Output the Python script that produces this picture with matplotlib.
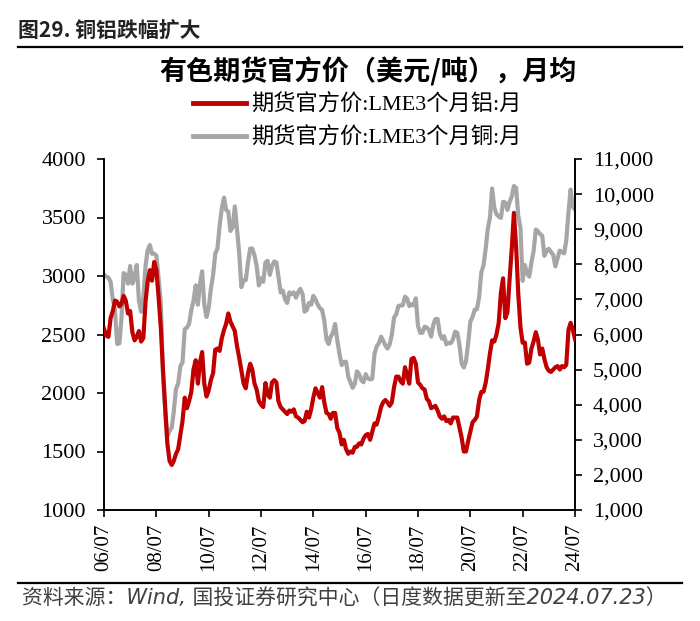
import pandas as pd
import matplotlib
matplotlib.use('Agg')
import matplotlib.pyplot as plt
import matplotlib.dates as mdates
from matplotlib.lines import Line2D
from matplotlib.ticker import MultipleLocator, FuncFormatter

# LME 3-month official price, monthly average (USD/t), 2006-07 .. 2024-07
aluminium = [
    2550, 2490, 2480, 2640, 2700, 2790,                                 # 2006 H2
    2780, 2740, 2760, 2830, 2790, 2680, 2700, 2520, 2450, 2480, 2530, 2440,  # 2007
    2470, 2780, 2950, 3050, 2960, 3120, 3050, 2820, 2560, 2200, 1880, 1570,  # 2008
    1420, 1385, 1420, 1480, 1520, 1640, 1760, 1960, 1870, 1930, 2010, 2200,  # 2009
    2280, 2080, 2260, 2350, 2080, 1970, 2020, 2110, 2170, 2370, 2380, 2360,  # 2010
    2470, 2540, 2590, 2680, 2610, 2570, 2530, 2400, 2300, 2190, 2080, 2040,  # 2011
    2170, 2250, 2200, 2080, 2030, 1930, 1900, 1880, 2085, 1990, 1960, 2090,  # 2012
    2110, 2090, 1930, 1880, 1860, 1840, 1820, 1850, 1840, 1860, 1800, 1790,  # 2013
    1770, 1750, 1760, 1840, 1790, 1860, 1960, 2040, 2000, 1960, 2050, 1920,  # 2014
    1830, 1820, 1780, 1830, 1830, 1700, 1660, 1560, 1600, 1520, 1480, 1500,  # 2015
    1490, 1540, 1540, 1570, 1560, 1610, 1640, 1650, 1600, 1670, 1740, 1730,  # 2016
    1800, 1880, 1920, 1940, 1920, 1890, 1920, 2050, 2140, 2140, 2100, 2080,  # 2017
    2220, 2150, 2080, 2290, 2300, 2250, 2090, 2070, 2040, 2030, 1950, 1930,  # 2018
    1870, 1880, 1890, 1850, 1800, 1780, 1800, 1760, 1770, 1740, 1790, 1790,  # 2019
    1790, 1700, 1620, 1500, 1500, 1590, 1670, 1750, 1770, 1800, 1940, 2010,  # 2020
    2010, 2090, 2200, 2340, 2450, 2440, 2500, 2600, 2860, 2980, 2640, 2690,  # 2021
    2980, 3250, 3540, 3250, 2850, 2560, 2430, 2430, 2250, 2260, 2380, 2440,  # 2022
    2520, 2450, 2330, 2380, 2290, 2220, 2190, 2180, 2200, 2220, 2230, 2200,  # 2023
    2230, 2220, 2240, 2540, 2600, 2540, 2460,                           # 2024
]
copper = [
    7700, 7650, 7620, 7500, 7000, 6700,
    5730, 5750, 6450, 7750, 7700, 7450, 7950, 7450, 7650, 7980, 6950, 6650,
    7050, 7950, 8400, 8550, 8300, 8300, 8250, 7600, 6900, 4900, 3800, 3100,
    3250, 3350, 3800, 4450, 4600, 5100, 5200, 6150, 6200, 6300, 6700, 6950,
    7400, 6850, 7450, 7800, 6850, 6500, 6750, 7300, 7700, 8300, 8450, 9100,
    9600, 9900, 9550, 9500, 8950, 9050, 9650, 9000, 8300, 7350, 7550, 7550,
    8050, 8450, 8450, 8250, 7950, 7400, 7600, 7500, 8050, 8100, 7700, 7950,
    8080, 8050, 7650, 7200, 7250, 7000, 6900, 7200, 7150, 7200, 7050, 7200,
    7300, 7150, 6650, 6700, 6900, 6850, 7100, 7000, 6850, 6750, 6700, 6400,
    5850, 5730, 5940, 6050, 6300, 5830, 5450, 5130, 5220, 5220, 4800, 4640,
    4480, 4600, 4950, 4870, 4700, 4640, 4870, 4750, 4720, 4740, 5450, 5660,
    5750, 5940, 5830, 5690, 5600, 5720, 5990, 6480, 6580, 6810, 6830, 6830,
    7080, 7010, 6810, 6860, 6830, 7030, 6250, 6050, 6050, 6220, 6200, 6130,
    5940, 6290, 6440, 6440, 6030, 5880, 5950, 5720, 5760, 5750, 5860, 6080,
    6050, 5690, 5180, 5060, 5240, 5760, 6370, 6500, 6710, 6720, 7070, 7770,
    7970, 8460, 9000, 9340, 10160, 9610, 9430, 9360, 9320, 9780, 9760, 9550,
    9780, 9940, 10230, 10180, 9380, 9030, 7530, 7980, 7750, 7650, 8060, 8370,
    8990, 8940, 8860, 8810, 8240, 8390, 8440, 8350, 8270, 7940, 8170, 8390,
    8350, 8310, 8680, 9480, 10130, 9640, 9550,
]
dates = pd.date_range('2006-07-01', periods=len(aluminium), freq='MS')

labels = ['期货官方价:LME3个月铝:月', '期货官方价:LME3个月铜:月']
RED = '#C00000'
GRAY = '#A6A6A6'
CJK = ['Noto Sans CJK SC', 'DejaVu Sans']
SERIF = ['Liberation Serif', 'Noto Sans CJK SC']

fig = plt.figure(figsize=(7.0, 6.21), dpi=100)
ax = fig.add_axes([104/700, 1-510/621, (575-104)/700, (510-159)/621])
ax2 = ax.twinx()

ax.plot(dates, aluminium, color=RED, lw=3.0, zorder=3)
ax2.plot(dates, copper, color=GRAY, lw=3.0, zorder=2)
ax.set_zorder(ax2.get_zorder() + 1)
ax.patch.set_visible(False)

ax.set_ylim(1000, 4000)
ax.yaxis.set_major_locator(MultipleLocator(500))
ax2.set_ylim(1000, 11000)
ax2.yaxis.set_major_locator(MultipleLocator(1000))
ax2.yaxis.set_major_formatter(FuncFormatter(lambda v, p: f'{int(v):,}'))

ax.set_xlim(dates[0], dates[-1])
ax.xaxis.set_major_locator(mdates.MonthLocator(bymonth=7, bymonthday=1, interval=24))
ax.xaxis.set_major_formatter(mdates.DateFormatter('%y/%m'))

for a in (ax, ax2):
    a.spines['top'].set_visible(False)
    for s in a.spines.values():
        s.set_linewidth(1.2)
    a.tick_params(direction='out', length=5, width=1.2, labelsize=16, pad=8)
    for t in a.get_yticklabels() + a.get_xticklabels():
        t.set_fontfamily(SERIF)
ax.tick_params(axis='x', pad=5, labelsize=15)
for t in ax.get_xticklabels():
    t.set_rotation(90)

# titles
fig.text(18/700, 1-31/621, '图29. 铜铝跌幅扩大', fontsize=15, fontweight='bold',
         family=CJK, color='#222222', va='center', ha='left')
fig.add_artist(Line2D([18/700, 682/700], [1-47/621]*2, color='black', lw=1.6))
fig.text(368/700, 1-72/621, '有色期货官方价（美元/吨），月均', fontsize=19.5,
         fontweight='bold', family=CJK, color='black', va='center', ha='center')

handles = [Line2D([], [], color=RED, lw=3.5), Line2D([], [], color=GRAY, lw=3.5)]
fig.legend(handles, labels, loc='upper left', bbox_to_anchor=(184/700, 1-86/621),
           frameon=False, handlelength=2.4, handletextpad=0.2, labelspacing=0.5,
           borderaxespad=0, prop={'family': SERIF, 'size': 16})

fig.add_artist(Line2D([18/700, 682/700], [1-583/621]*2, color='black', lw=1.6))
fig.text(22/700, 1-599/621, '资料来源：Wind, 国投证券研究中心（日度数据更新至2024.07.23）',
         fontsize=15, style='italic', family=['DejaVu Sans', 'Noto Sans CJK SC'],
         color='#404040', va='center', ha='left')

fig.savefig('out.png', dpi=100)
